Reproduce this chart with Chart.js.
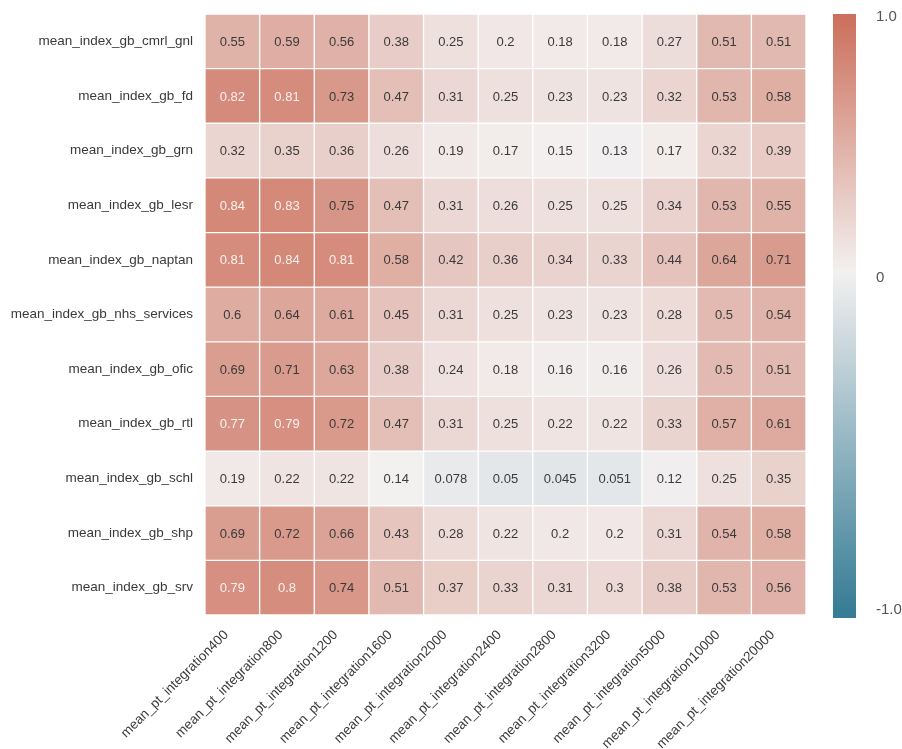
<!DOCTYPE html>
<html>
<head>
<meta charset="utf-8">
<script src="https://cdn.jsdelivr.net/npm/chart.js@4.4.1/dist/chart.umd.min.js"></script>
<style>
  html, body { margin: 0; padding: 0; background: #fff; }
  #wrap { position: relative; width: 902px; height: 749px; }
  #heat { position: absolute; left: 0; top: 0; }
  #cbar { position: absolute; left: 820px; top: 0; }
</style>
</head>
<body>
<div id="wrap">
  <canvas id="heat" width="820" height="749"></canvas>
  <canvas id="cbar" width="82" height="749"></canvas>
</div>
<script>
const rowLabels = [
  'mean_index_gb_cmrl_gnl', 'mean_index_gb_fd', 'mean_index_gb_grn', 'mean_index_gb_lesr',
  'mean_index_gb_naptan', 'mean_index_gb_nhs_services', 'mean_index_gb_ofic', 'mean_index_gb_rtl',
  'mean_index_gb_schl', 'mean_index_gb_shp', 'mean_index_gb_srv'
];
const colLabels = [
  'mean_pt_integration400', 'mean_pt_integration800', 'mean_pt_integration1200', 'mean_pt_integration1600',
  'mean_pt_integration2000', 'mean_pt_integration2400', 'mean_pt_integration2800', 'mean_pt_integration3200',
  'mean_pt_integration5000', 'mean_pt_integration10000', 'mean_pt_integration20000'
];

const cmrl_gnl     = [0.55, 0.59, 0.56, 0.38, 0.25, 0.2, 0.18, 0.18, 0.27, 0.51, 0.51];
const fd           = [0.82, 0.81, 0.73, 0.47, 0.31, 0.25, 0.23, 0.23, 0.32, 0.53, 0.58];
const grn          = [0.32, 0.35, 0.36, 0.26, 0.19, 0.17, 0.15, 0.13, 0.17, 0.32, 0.39];
const lesr         = [0.84, 0.83, 0.75, 0.47, 0.31, 0.26, 0.25, 0.25, 0.34, 0.53, 0.55];
const naptan       = [0.81, 0.84, 0.81, 0.58, 0.42, 0.36, 0.34, 0.33, 0.44, 0.64, 0.71];
const nhs_services = [0.6, 0.64, 0.61, 0.45, 0.31, 0.25, 0.23, 0.23, 0.28, 0.5, 0.54];
const ofic         = [0.69, 0.71, 0.63, 0.38, 0.24, 0.18, 0.16, 0.16, 0.26, 0.5, 0.51];
const rtl          = [0.77, 0.79, 0.72, 0.47, 0.31, 0.25, 0.22, 0.22, 0.33, 0.57, 0.61];
const schl         = [0.19, 0.22, 0.22, 0.14, 0.078, 0.05, 0.045, 0.051, 0.12, 0.25, 0.35];
const shp          = [0.69, 0.72, 0.66, 0.43, 0.28, 0.22, 0.2, 0.2, 0.31, 0.54, 0.58];
const srv          = [0.79, 0.8, 0.74, 0.51, 0.37, 0.33, 0.31, 0.3, 0.38, 0.53, 0.56];

const rows = [cmrl_gnl, fd, grn, lesr, naptan, nhs_services, ofic, rtl, schl, shp, srv];

// colour bar
const cbarMin = -1.027;
const cbarMax = 1.01;
const cbarTicks = [1.0, 0.12, -1.0];
const cbarTickLabels = ['1.0', '0', '-1.0'];

// diverging colour map
const cmapCenter = 0.14;
const redEnd = [204, 112, 92];
const midCol = [243, 240, 240];
const blueEnd = [55, 125, 150];

function cmap(v) {
  let t, end;
  if (v >= cmapCenter) { t = (v - cmapCenter) / (1 - cmapCenter); end = redEnd; }
  else { t = (cmapCenter - v) / (cmapCenter + 1); end = blueEnd; }
  t = Math.max(0, Math.min(1, t));
  const c = midCol.map((m, i) => Math.round(m + (end[i] - m) * t));
  return 'rgb(' + c.join(',') + ')';
}

const FONT = '"Liberation Sans", Arial, sans-serif';

const datasets = rows.map(function(vals, r) {
  return {
    label: rowLabels[r],
    data: vals.map((v, c) => ({ x: colLabels[c], y: [r, r + 1], v: v })),
    backgroundColor: (ctx) => ctx.raw ? cmap(ctx.raw.v) : '#fff',
    borderColor: '#ffffff',
    borderWidth: 1,
    borderSkipped: false,
    barPercentage: 1,
    categoryPercentage: 1,
    grouped: false
  };
});

const cellText = {
  id: 'cellText',
  afterDatasetsDraw(chart) {
    const ctx = chart.ctx;
    ctx.save();
    ctx.font = '13px ' + FONT;
    ctx.textAlign = 'center';
    ctx.textBaseline = 'middle';
    chart.data.datasets.forEach(function(ds, i) {
      chart.getDatasetMeta(i).data.forEach(function(el, j) {
        const v = ds.data[j].v;
        ctx.fillStyle = v >= 0.765 ? '#fbf1ef' : '#3a3a3a';
        ctx.fillText(String(v), el.x, (el.y + el.base) / 2 + 1);
      });
    });
    ctx.restore();
  }
};

new Chart(document.getElementById('heat').getContext('2d'), {
  type: 'bar',
  data: { labels: colLabels, datasets: datasets },
  plugins: [cellText],
  options: {
    responsive: false,
    animation: false,
    devicePixelRatio: 1,
    layout: { padding: { top: 14, right: 14, left: 0, bottom: 0 } },
    plugins: { legend: { display: false }, tooltip: { enabled: false } },
    scales: {
      x: {
        type: 'category',
        grid: { display: false, drawTicks: false },
        border: { display: false },
        afterFit(scale) { scale.height = 134; scale.paddingLeft = 0; scale.paddingRight = 0; },
        ticks: {
          autoSkip: false,
          maxRotation: 45,
          minRotation: 45,
          padding: 12,
          labelOffset: -6,
          color: '#3a3a3a',
          font: { family: FONT, size: 13.5 }
        }
      },
      y: {
        type: 'linear',
        min: 0,
        max: rowLabels.length,
        reverse: true,
        grid: { display: false, drawTicks: false },
        border: { display: false },
        afterFit(scale) { scale.width = 205; scale.paddingTop = 0; scale.paddingBottom = 0; },
        afterBuildTicks(axis) {
          axis.ticks = rowLabels.map((_, i) => ({ value: i + 0.5 }));
        },
        ticks: {
          autoSkip: false,
          padding: 12,
          color: '#3a3a3a',
          font: { family: FONT, size: 13.5 },
          callback: (value, index) => rowLabels[index]
        }
      }
    }
  }
});

new Chart(document.getElementById('cbar').getContext('2d'), {
  type: 'bar',
  data: {
    labels: [''],
    datasets: [{
      data: [[cbarMin, cbarMax]],
      barPercentage: 1,
      categoryPercentage: 1,
      borderWidth: 0,
      backgroundColor(ctx) {
        const chart = ctx.chart;
        if (!chart.chartArea) return '#eee';
        const ys = chart.scales.y;
        const y0 = ys.getPixelForValue(-1), y1 = ys.getPixelForValue(1);
        const g = chart.ctx.createLinearGradient(0, y0, 0, y1);
        const mid = 0.5 * (cmapCenter + 1);
        g.addColorStop(0, cmap(-1));
        g.addColorStop(mid * 0.5, cmap((cmapCenter - 1) / 2));
        g.addColorStop(mid, cmap(cmapCenter));
        g.addColorStop(mid + (1 - mid) * 0.5, cmap((1 + cmapCenter) / 2));
        g.addColorStop(1, cmap(1));
        return g;
      }
    }]
  },
  options: {
    responsive: false,
    animation: false,
    devicePixelRatio: 1,
    layout: { padding: { top: 14, left: 13, right: 0, bottom: 131 } },
    plugins: { legend: { display: false }, tooltip: { enabled: false } },
    scales: {
      x: { display: false },
      y: {
        type: 'linear',
        position: 'right',
        min: cbarMin,
        max: cbarMax,
        grid: { display: false, drawTicks: false },
        border: { display: false },
        afterFit(scale) { scale.width = 46; scale.paddingTop = 0; scale.paddingBottom = 0; },
        afterBuildTicks(axis) {
          axis.ticks = cbarTicks.map(v => ({ value: v }));
        },
        ticks: {
          padding: 20,
          color: '#555',
          font: { family: FONT, size: 15 },
          callback: (value, index) => cbarTickLabels[index]
        }
      }
    }
  }
});
</script>
</body>
</html>
